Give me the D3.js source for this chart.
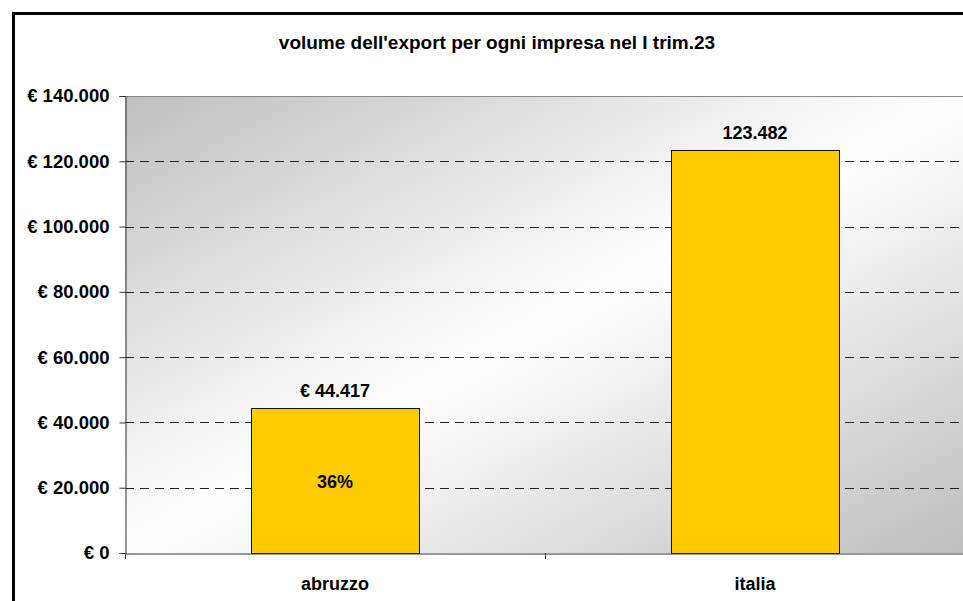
<!DOCTYPE html>
<html><head><meta charset="utf-8">
<script src="https://cdn.jsdelivr.net/npm/d3@7"></script>
<style>body{margin:0;background:#fff}svg{display:block;font-family:"Liberation Sans",Arial,sans-serif}</style>
</head><body>
<script>
const categories = ["abruzzo", "italia"];
const values = [44417, 123482];
const valueLabels = ["€ 44.417", "123.482"];
const innerLabels = ["36%", ""];
const yTicks = [0, 20000, 40000, 60000, 80000, 100000, 120000, 140000];
const title = "volume dell'export per ogni impresa nel I trim.23";

const W = 963, H = 601;
const m = {left: 125, top: 96, right: W - 965, bottom: H - 553};
const svg = d3.select("body").append("svg").attr("width", W).attr("height", H);

const defs = svg.append("defs");
const g1 = defs.append("linearGradient").attr("id", "bg")
  .attr("x1", 0).attr("y1", 0).attr("x2", 1).attr("y2", 1);
g1.append("stop").attr("offset", "0").attr("stop-color", "#bfbfbf");
g1.append("stop").attr("offset", "0.5").attr("stop-color", "#ffffff");
g1.append("stop").attr("offset", "1").attr("stop-color", "#bdbdbd");

// outer border
svg.append("rect").attr("x", 13.5).attr("y", 13.5).attr("width", W).attr("height", H)
  .attr("fill", "none").attr("stroke", "#000").attr("stroke-width", 3);

const x = d3.scaleBand().domain(categories).range([m.left, W - m.right]).paddingInner(0).paddingOuter(0);
const y = d3.scaleLinear().domain([0, 140000]).range([H - m.bottom, m.top]);

// plot area
svg.append("rect").attr("x", m.left).attr("y", m.top).attr("width", W - m.right - m.left)
  .attr("height", H - m.bottom - m.top).attr("fill", "url(#bg)");
svg.append("line").attr("x1", m.left).attr("x2", W - m.right).attr("y1", m.top + 0.5).attr("y2", m.top + 0.5)
  .attr("stroke", "#8a8a8a").attr("stroke-width", 1);

// grid
svg.append("g").selectAll("line").data(yTicks.filter(d => d > 0 && d < 140000)).join("line")
  .attr("x1", m.left).attr("x2", W - m.right)
  .attr("y1", d => Math.round(y(d)) + 0.5).attr("y2", d => Math.round(y(d)) + 0.5)
  .attr("stroke", "#222").attr("stroke-width", 1).attr("stroke-dasharray", "9,6");

// bars
const bw = x.bandwidth() * 0.4;
svg.append("g").selectAll("rect").data(values).join("rect")
  .attr("x", (d, i) => Math.round(x(categories[i]) + (x.bandwidth() - bw) / 2) + 0.5)
  .attr("y", d => Math.round(y(d)) + 0.5)
  .attr("width", bw)
  .attr("height", d => y(0) - Math.round(y(d)))
  .attr("fill", "#ffcc00").attr("stroke", "#111").attr("stroke-width", 1);

// y axis
const yAxis = svg.append("g").attr("transform", `translate(${m.left + 0.5},0)`)
  .call(d3.axisLeft(y).tickValues(yTicks).tickSize(6).tickPadding(10)
    .tickFormat(d => "€ " + (d === 0 ? "0" : d3.format(",")(d).replace(/,/g, "."))));
yAxis.select(".domain").attr("stroke", "#333");
yAxis.selectAll(".tick line").attr("stroke", "#333");
yAxis.selectAll("text").attr("font-size", 18.5).attr("font-weight", "bold").attr("fill", "#000")
  .attr("font-family", "Liberation Sans, Arial, sans-serif");

// x axis
const xAxis = svg.append("g").attr("transform", `translate(0,${H - m.bottom + 0.5})`)
  .call(d3.axisBottom(x).tickSize(0).tickPadding(24));
xAxis.select(".domain").attr("stroke", "#333");
xAxis.selectAll("text").attr("font-size", 18).attr("font-weight", "bold").attr("fill", "#000")
  .attr("font-family", "Liberation Sans, Arial, sans-serif");
// category separator ticks
svg.append("g").selectAll("line").data(categories).join("line")
  .attr("x1", d => Math.round(x(d)) + 0.5).attr("x2", d => Math.round(x(d)) + 0.5)
  .attr("y1", H - m.bottom).attr("y2", H - m.bottom + 6).attr("stroke", "#333");

// value labels
svg.append("g").selectAll("text").data(values).join("text")
  .attr("x", (d, i) => x(categories[i]) + x.bandwidth() / 2)
  .attr("y", d => y(d) - 11)
  .attr("text-anchor", "middle").attr("font-size", 18).attr("font-weight", "bold")
  .text((d, i) => valueLabels[i]);

svg.append("g").selectAll("text").data(values).join("text")
  .attr("x", (d, i) => x(categories[i]) + x.bandwidth() / 2)
  .attr("y", d => (y(d) + y(0)) / 2 + 7)
  .attr("text-anchor", "middle").attr("font-size", 18).attr("font-weight", "bold")
  .text((d, i) => innerLabels[i]);

// title
svg.append("text").attr("x", 497).attr("y", 49).attr("text-anchor", "middle")
  .attr("font-size", 19).attr("font-weight", "bold").text(title);
</script>
</body></html>
